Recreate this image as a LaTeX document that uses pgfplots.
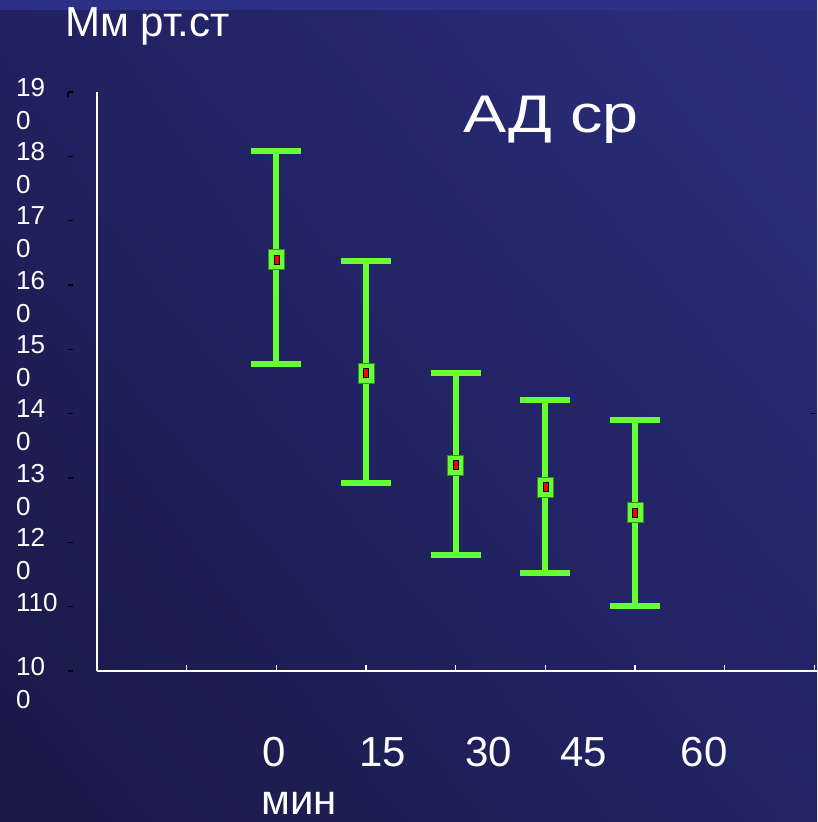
\documentclass[border=0pt]{standalone}
\usepackage{fontspec}
\setmainfont{Liberation Sans}
\usepackage{pgfplots}
\usepackage{pgfplotstable}
\usetikzlibrary{shadings}
\pgfplotsset{compat=1.18}
\definecolor{bgUL}{RGB}{33,33,96}
\definecolor{bgUR}{RGB}{43,46,126}
\definecolor{bgLL}{RGB}{25,25,70}
\definecolor{bgLR}{RGB}{34,36,100}
\definecolor{bgTop}{RGB}{45,48,135}
\definecolor{eb}{RGB}{102,255,51}
\pgfplotstableread{
x y ep em
2 164.0 16.9 16.3
3 146.3 17.4 17.1
4 132.0 14.3 14.0
5 128.6 13.5 13.4
6 124.6 14.4 14.5
}\datatable
\begin{document}
\begin{tikzpicture}[x=1pt,y=1pt]
\useasboundingbox (0,0) rectangle (817,822);
\shade[upper left=bgUL, upper right=bgUR, lower left=bgLL, lower right=bgLR] (0,0) rectangle (817,822);
\fill[bgTop] (0,812) rectangle (817,822);
\begin{axis}[
  at={(97pt,151pt)}, anchor=south west, scale only axis,
  width=720pt, height=579pt,
  xmin=0, xmax=8.03, ymin=100, ymax=190,
  clip=false,
  axis lines=left,
  axis line style={-, white, line width=2pt},
  xtick={1,...,8}, xticklabels={},
  x tick style={white, line width=1.5pt},
  xtick align=inside, major tick length=6pt,
  ytick={100,110,...,190},
  yticklabels={{10\\0},{110},{12\\0},{13\\0},{14\\0},{15\\0},{16\\0},{17\\0},{18\\0},{19\\0}},
  y tick style={draw=none},
  yticklabel style={font=\fontsize{26}{33}\selectfont, text=white, align=left, anchor=north west, inner sep=0pt, xshift=-78pt, yshift=14pt},
]
\addplot[mark=none, draw=none, forget plot,
  error bars/.cd, y dir=both, y explicit,
  error bar style={draw=eb, line width=6pt},
  error mark options={rotate=90, draw=eb, line width=6pt, mark size=25pt}]
  table[x=x, y=y, y error plus=ep, y error minus=em] {\datatable};
\addplot[only marks, mark=square*, mark size=8pt,
  mark options={yscale=1.25, fill=eb, draw=eb!55!black, line width=0.6pt}]
  table[x=x, y=y] {\datatable};
\addplot[only marks, mark=square*, mark size=2.5pt,
  mark options={yscale=1.8, fill=red, draw=none}]
  table[x=x, y=y] {\datatable};
\pgfplotsinvokeforeach{100,110,...,190}{
  \draw[black, line width=1.5pt] ([xshift=-29pt]axis cs:0,#1) -- ([xshift=-24pt]axis cs:0,#1);
}
\draw[black, line width=1.5pt] ([xshift=-29pt,yshift=-5pt]axis cs:0,190) -- ([xshift=-29pt]axis cs:0,190);
\draw[black, line width=1.5pt] ([xshift=-3pt]axis cs:8,140) -- ([xshift=2pt]axis cs:8,140);
\end{axis}
\node[anchor=base, inner sep=0pt, text=white, font=\fontsize{42}{50}\selectfont] at (274,55) {0};
\node[anchor=base, inner sep=0pt, text=white, font=\fontsize{42}{50}\selectfont] at (383,55) {15};
\node[anchor=base, inner sep=0pt, text=white, font=\fontsize{42}{50}\selectfont] at (489,55) {30};
\node[anchor=base, inner sep=0pt, text=white, font=\fontsize{42}{50}\selectfont] at (584,55) {45};
\node[anchor=base, inner sep=0pt, text=white, font=\fontsize{42}{50}\selectfont] at (704,55) {60};
\node[anchor=base west, inner sep=0pt, text=white, font=\fontsize{42}{50}\selectfont] at (261,8) {мин};
\node[anchor=base west, inner sep=0pt, text=white, font=\fontsize{42}{50}\selectfont] at (65,785) {Мм рт.ст};
\node[anchor=base west, inner sep=0pt, text=white, font=\fontsize{53}{60}\selectfont] at (463,689) {\scalebox{1.22}[1]{АД ср}};
\end{tikzpicture}
\end{document}
